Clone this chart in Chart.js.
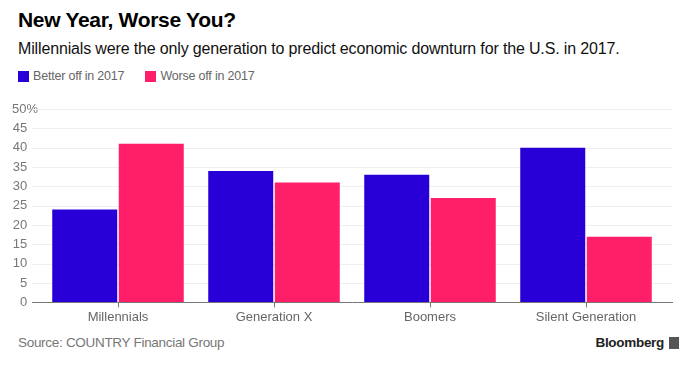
<!DOCTYPE html>
<html>
<head>
<meta charset="utf-8">
<script src="https://cdn.jsdelivr.net/npm/chart.js@4/dist/chart.umd.min.js"></script>
<style>
  body { margin: 0; width: 696px; height: 368px; background: #fff; font-family: "Liberation Sans", Arial, sans-serif; position: relative; overflow: hidden; }
  #title { position: absolute; left: 18px; top: 8px; font-size: 21px; font-weight: bold; color: #000; letter-spacing: -0.3px; }
  #subtitle { position: absolute; left: 18px; top: 40px; font-size: 16px; color: #111; letter-spacing: -0.15px; }
  #legend { position: absolute; left: 18px; top: 69px; font-size: 12.5px; color: #666; display: flex; letter-spacing: -0.2px; }
  #legend .item { display: flex; align-items: center; margin-right: 21px; }
  #legend .box { width: 11px; height: 11px; margin-right: 4px; }
  #wrap { position: absolute; left: 0; top: 95px; width: 696px; height: 235px; }
  #source { position: absolute; left: 18px; top: 335px; font-size: 13.5px; color: #777; letter-spacing: -0.3px; }
  #brand { position: absolute; right: 17px; top: 335px; font-size: 13.5px; font-weight: bold; color: #222; display: flex; align-items: center; letter-spacing: -0.3px; }
  #brand .icon { width: 10px; height: 12px; background: #555; margin-left: 5px; }
</style>
</head>
<body>
<div id="title">New Year, Worse You?</div>
<div id="subtitle">Millennials were the only generation to predict economic downturn for the U.S. in 2017.</div>
<div id="legend"></div>
<div id="wrap"><canvas id="myChart"></canvas></div>
<div id="source">Source: COUNTRY Financial Group</div>
<div id="brand">Bloomberg<span class="icon"></span></div>

<script>
const categories = ['Millennials', 'Generation X', 'Boomers', 'Silent Generation'];
const seriesNames = ['Better off in 2017', 'Worse off in 2017'];
const betterOff = [24, 34, 33, 40];
const worseOff = [41, 31, 27, 17];
const yTicks = [0, 5, 10, 15, 20, 25, 30, 35, 40, 45, 50];
const colors = ['#2800d7', '#ff1f69'];

// legend in html
const legendDiv = document.getElementById('legend');
legendDiv.innerHTML = seriesNames.map((name, i) =>
    `<div class="item"><div class="box" style="background:${colors[i]}"></div>${name}</div>`
).join('');

// horizontal grid lines a bit wider than the plot, like the original
const gridPlugin = {
    id: 'wideGrid',
    beforeDatasetsDraw(chart) {
        const { ctx, chartArea, scales } = chart;
        ctx.save();
        ctx.lineWidth = 1;
        scales.y.ticks.forEach(t => {
            if (t.value === 0) return;
            const y = Math.round(scales.y.getPixelForValue(t.value)) + 0.5;
            ctx.strokeStyle = '#efefef';
            ctx.beginPath();
            ctx.moveTo(chartArea.left - 8, y);
            ctx.lineTo(chartArea.right + 8, y);
            ctx.stroke();
        });
        ctx.restore();
    },
    afterDatasetsDraw(chart) {
        const { ctx, chartArea, scales } = chart;
        const y = Math.round(scales.y.getPixelForValue(0)) + 0.5;
        ctx.save();
        ctx.strokeStyle = '#777';
        ctx.lineWidth = 1;
        ctx.beginPath();
        ctx.moveTo(chartArea.left - 8, y);
        ctx.lineTo(chartArea.right + 9, y);
        ctx.stroke();
        ctx.restore();
    }
};

const ctx = document.getElementById('myChart').getContext('2d');
new Chart(ctx, {
    type: 'bar',
    data: {
        labels: categories,
        datasets: [
            { label: seriesNames[0], data: betterOff, backgroundColor: colors[0] },
            { label: seriesNames[1], data: worseOff, backgroundColor: colors[1] }
        ]
    },
    options: {
        responsive: true,
        maintainAspectRatio: false,
        animation: false,
        categoryPercentage: 0.853,
        barPercentage: 0.977,
        layout: { padding: { top: 14, right: 32, bottom: 3, left: 0 } },
        plugins: {
            legend: { display: false },
            tooltip: { enabled: false }
        },
        scales: {
            x: {
                grid: { display: true, drawOnChartArea: false, drawTicks: true, tickLength: 5, color: '#777', offset: false },
                border: { display: false },
                ticks: { color: '#666', padding: 2, font: { family: 'Liberation Sans', size: 13 } }
            },
            y: {
                min: 0,
                max: 50,
                afterFit(scale) { scale.width = 40; },
                afterBuildTicks(scale) { scale.ticks = yTicks.map(v => ({ value: v })); },
                grid: { display: false },
                border: { display: false },
                ticks: {
                    color: '#777',
                    padding: -6,
                    font: { family: 'Liberation Sans', size: 13 },
                    callback: v => v === 50 ? '50%' : v + '   '
                }
            }
        }
    },
    plugins: [gridPlugin]
});
</script>
</body>
</html>
